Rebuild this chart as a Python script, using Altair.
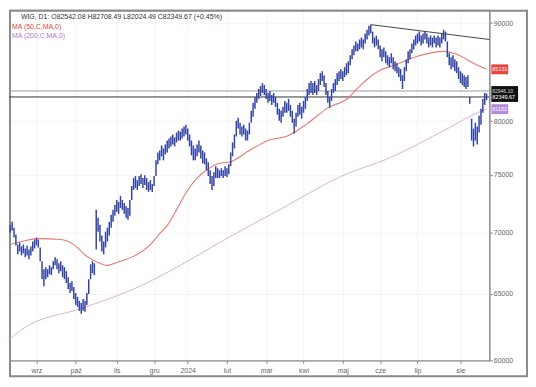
import altair as alt
import pandas as pd

title_text = "WIG, D1: O82542.08 H82708.49 L82024.49 C82349.67 (+0.45%)"
ma50_name = "MA (50,C,MA,0)"
ma200_name = "MA (200,C,MA,0)"

month_labels = ["wrz", "paź", "lis", "gru", "2024", "lut", "mar", "kwi", "maj", "cze", "lip", "sie"]
# trading bars per month: Aug 2023 (partial) ... Aug 2024 (partial)
month_bar_counts = [14, 21, 22, 20, 18, 21, 21, 20, 21, 20, 20, 23, 15]

highs = [
    70630, 70880, 70380, 69800, 68970, 69130, 68810, 68970, 68640, 68890,
    68560, 68810, 69220, 69380, 69550, 69380, 68720, 67590, 66950, 67110,
    66950, 67270, 67110, 67590, 67910, 67750, 67430, 67590, 67270, 67110,
    66790, 66310, 65840, 66000, 65530, 65060, 64750, 64450, 64290, 64600,
    64450, 65060, 66150, 67350, 67590, 67430, 71900, 71220, 70630, 69710,
    69220, 70040, 70380, 70880, 71470, 71900, 72330, 72760, 72590, 73120,
    72760, 72500, 72240, 72070, 72760, 73990, 74700, 74880, 74520, 74880,
    75050, 74700, 74960, 74700, 74340, 74520, 74170, 74880, 76310, 77040,
    77220, 77690, 77410, 77780, 78150, 78340, 78530, 78720, 78440, 78900,
    79090, 79000, 79280, 79470, 79650, 79280, 78720, 78150, 77690, 77410,
    77780, 78150, 77690, 77220, 77040, 76490, 76130, 75410, 74880, 75230,
    75770, 75590, 75410, 75590, 75410, 75770, 75590, 75950, 77040, 77970,
    78720, 80030, 80320, 79840, 79470, 79650, 79280, 79090, 79840, 80990,
    81770, 82350, 82750, 83140, 83440, 83740, 83540, 83140, 82750, 82940,
    82550, 82750, 82350, 81770, 81190, 80990, 81380, 81960, 81770, 82160,
    81570, 80990, 80230, 80800, 81570, 81770, 81380, 81960, 82350, 83140,
    83740, 83940, 83740, 83940, 83540, 84140, 84740, 84940, 84540, 83740,
    82940, 82350, 83140, 83740, 84140, 84740, 84940, 85150, 84940, 85350,
    85760, 85960, 86580, 87200, 87610, 88030, 87820, 88240, 88450, 88240,
    88870, 89290, 89720, 89830, 89080, 88450, 88660, 88240, 87610, 87200,
    87400, 86990, 86580, 86380, 86790, 86380, 85960, 85760, 85350, 85150,
    84540, 85350, 86170, 86990, 87200, 87820, 88240, 88660, 88870, 89080,
    88660, 88870, 89080, 88870, 88450, 88660, 88450, 88660, 88450, 88660,
    88450, 88870, 89290, 89080, 88030, 86790, 86380, 86580, 86170, 85960,
    85350, 84940, 84740, 84540, 84340, 84540, 82350, 80230, 79280, 79840,
    79470, 80520, 81190, 82160, 82750, 82708.49,
]
lows = [
    69960, 70130, 69550, 68890, 68160, 68400, 68070, 68240, 67910, 68070,
    67750, 68070, 68400, 68640, 68890, 68720, 67590, 66150, 65600, 66150,
    66310, 66550, 66470, 66950, 67270, 66950, 66630, 66790, 66310, 66150,
    65840, 65370, 65060, 65210, 64600, 64140, 63980, 63680, 63460, 63680,
    63610, 64140, 64980, 66150, 66630, 66470, 68560, 70040, 69220, 68400,
    68160, 68720, 69220, 69710, 70380, 70880, 71390, 71730, 71560, 72070,
    71900, 71560, 71220, 71050, 71390, 72760, 73640, 73820, 73640, 73990,
    74170, 73820, 74080, 73640, 73470, 73640, 73470, 73990, 74880, 75950,
    76310, 76680, 76310, 76860, 77040, 77410, 77600, 77780, 77600, 77970,
    78150, 78150, 78340, 78530, 78720, 78150, 77600, 76770, 76310, 76310,
    76680, 77040, 76490, 76040, 75950, 75410, 74880, 74170, 73640, 73990,
    74700, 74700, 74700, 74880, 74700, 74880, 74790, 75050, 75770, 76680,
    77410, 78530, 79280, 78720, 78530, 78720, 78150, 78150, 78720, 79840,
    80420, 81190, 81770, 82160, 82450, 82750, 82550, 82160, 81770, 81960,
    81570, 81770, 81380, 80610, 80030, 79840, 80420, 80800, 80800, 80990,
    80420, 79840, 78810, 79470, 80420, 80610, 80230, 80800, 81190, 81960,
    82550, 82750, 82550, 82750, 82550, 82940, 83540, 83940, 83340, 82550,
    81770, 81280, 81960, 82750, 82940, 83540, 83940, 84140, 83940, 84340,
    84540, 84740, 85550, 86170, 86580, 86990, 86990, 87200, 87400, 87200,
    87820, 88240, 88660, 88870, 87820, 87400, 87610, 87200, 86380, 85960,
    86380, 85760, 85550, 85350, 85760, 85150, 84940, 84740, 84340, 83940,
    83140, 83940, 84940, 85760, 86170, 86790, 87200, 87610, 87820, 88030,
    87610, 87820, 88240, 87820, 87400, 87610, 87400, 87820, 87400, 87610,
    87400, 87820, 88240, 88030, 86380, 85550, 85150, 85350, 84940, 84740,
    84140, 83740, 83540, 83340, 83140, 83340, 81670, 78150, 77600, 78150,
    77780, 78900, 79650, 80800, 81570, 82024.49,
]

ma50_idx = [0, 6, 15, 27, 34, 41, 47, 52, 57, 66, 75, 80, 84, 89, 95, 100, 105, 112, 117,
            128, 138, 149, 159, 170, 181, 186, 197, 207, 218, 232, 239, 248, 255]
ma50_val = [68960, 69210, 69460, 69380, 68960, 67990, 67500, 67260, 67500, 67990, 68960,
            69880, 70550, 71900, 73640, 74700, 75410, 76040, 76130, 77220, 78150, 78620,
            79750, 81280, 82250, 83240, 84940, 85650, 86470, 86990, 86680, 85750, 85131]

ma200_idx = [0, 6, 39, 66, 91, 112, 144, 181, 200, 235, 250, 255]
ma200_val = [61590, 62260, 63910, 65370, 67260, 69130, 71900, 75140, 76310, 79370, 80800, 81152]

trend_idx = [193, 256.5]
trend_val = [89830, 88240]

last_close = 82349.67
level_line = 82946.10
ma50_last = 85131
ma200_last = 81152

y_ticks = [60000, 65000, 70000, 75000, 80000, 90000]

# ---------------------------------------------------------------
FONT = "Liberation Sans"
month_starts = []
acc = 0
for c in month_bar_counts[:-1]:
    acc += c
    month_starts.append(acc)

bars = pd.DataFrame({"i": list(range(len(highs))), "high": highs, "low": lows})
ma50 = pd.DataFrame({"i": ma50_idx, "v": ma50_val})
ma200 = pd.DataFrame({"i": ma200_idx, "v": ma200_val})
trend = pd.DataFrame({"i": trend_idx, "v": trend_val})
one = pd.DataFrame({"k": [0]})

label_expr = "[" + ",".join("'%s'" % m for m in month_labels) + "][indexof([" + \
    ",".join(str(s) for s in month_starts) + "], datum.value)]"

xs = alt.Scale(domain=[-0.7, 256.5], nice=False, zero=False)
ys = alt.Scale(type="log", domain=[60000, 91450], nice=False)
x_axis = alt.Axis(values=month_starts, labelExpr=label_expr, title=None, grid=True,
                  gridColor="#f4f4f4", tickSize=3, tickColor="#888", domainColor="#888",
                  labelFontSize=7, labelColor="#666", labelFont=FONT, labelPadding=3)
y_axis = alt.Axis(orient="right", values=y_ticks, format="d", title=None, grid=True,
                  gridColor="#f4f4f4", tickSize=3, tickColor="#888", domainColor="#888",
                  labelFontSize=7, labelColor="#666", labelFont=FONT, labelPadding=1)


def X(f):
    return alt.X(f, type="quantitative", scale=xs, axis=x_axis)


def Y(f):
    return alt.Y(f, type="quantitative", scale=ys, axis=y_axis)


frame = alt.Chart(one).mark_rect(filled=False, stroke="#8a8a8a", strokeWidth=2).encode(
    x=alt.value(1), x2=alt.value(523), y=alt.value(1), y2=alt.value(370))

level = alt.Chart(pd.DataFrame({"v": [level_line]})).mark_rule(color="#9a9a9a", strokeWidth=1).encode(y=Y("v"))
bid = alt.Chart(pd.DataFrame({"v": [last_close]})).mark_rule(color="#333333", strokeWidth=1).encode(y=Y("v"))

l200 = alt.Chart(ma200).mark_line(color="#dcb0d6", strokeWidth=1, interpolate="monotone").encode(x=X("i"), y=Y("v"))
l50 = alt.Chart(ma50).mark_line(color="#e57a74", strokeWidth=1.1, interpolate="monotone").encode(x=X("i"), y=Y("v"))

ohlc = alt.Chart(bars).mark_rule(color="#3344a4", strokeWidth=1.5).encode(
    x=X("i"), y=Y("low"), y2="high")

tl = alt.Chart(trend).mark_line(color="#444444", strokeWidth=1).encode(x=X("i"), y=Y("v"))

red_df = pd.DataFrame({"v": [ma50_last], "t": ["85131"]})
red_box = alt.Chart(red_df).mark_rect(color="#e8463c", yOffset=-5, y2Offset=5).encode(
    x=alt.value(487), x2=alt.value(504), y=Y("v"), y2="v")
red_txt = alt.Chart(red_df).mark_text(align="left", baseline="middle", fontSize=5.5, color="white", font=FONT).encode(
    x=alt.value(488), y=Y("v"), text="t")

blk_df = pd.DataFrame({"v": [last_close], "t": ["82349.67"], "t2": ["82946.10"]})
blk_box = alt.Chart(blk_df).mark_rect(color="#111111", yOffset=-11, y2Offset=5).encode(
    x=alt.value(487), x2=alt.value(514), y=Y("v"), y2="v")
blk_txt = alt.Chart(blk_df).mark_text(align="left", baseline="middle", fontSize=5.5, color="white", font=FONT, dy=0.5).encode(
    x=alt.value(488), y=Y("v"), text="t")
blk_txt2 = alt.Chart(blk_df).mark_text(align="left", baseline="middle", fontSize=5, color="#dddddd", font=FONT, dy=-6.5).encode(
    x=alt.value(488), y=Y("v"), text="t2")

pur_df = pd.DataFrame({"v": [ma200_last], "t": ["81152"]})
pur_box = alt.Chart(pur_df).mark_rect(color="#b48ad8", yOffset=-5, y2Offset=5).encode(
    x=alt.value(487), x2=alt.value(504), y=Y("v"), y2="v")
pur_txt = alt.Chart(pur_df).mark_text(align="left", baseline="middle", fontSize=5.5, color="white", font=FONT).encode(
    x=alt.value(488), y=Y("v"), text="t")

h1 = alt.Chart(one).mark_text(text=title_text, align="left", baseline="middle", fontSize=7, color="#333333", font=FONT).encode(
    x=alt.value(12), y=alt.value(7))
h2 = alt.Chart(one).mark_text(text=ma50_name, align="left", baseline="middle", fontSize=7, color="#e0463c", font=FONT).encode(
    x=alt.value(3), y=alt.value(17))
h3 = alt.Chart(one).mark_text(text=ma200_name, align="left", baseline="middle", fontSize=7, color="#b07cc8", font=FONT).encode(
    x=alt.value(3), y=alt.value(26))

chart = alt.layer(
    frame, level, bid, l200, l50, ohlc, tl,
    red_box, red_txt, blk_box, blk_txt, blk_txt2, pur_box, pur_txt,
    h1, h2, h3,
).properties(width=485, height=354, padding=0).configure_view(stroke="#888888", strokeWidth=1)

chart.save("out.html", embed_options={"renderer": "svg", "actions": False})
